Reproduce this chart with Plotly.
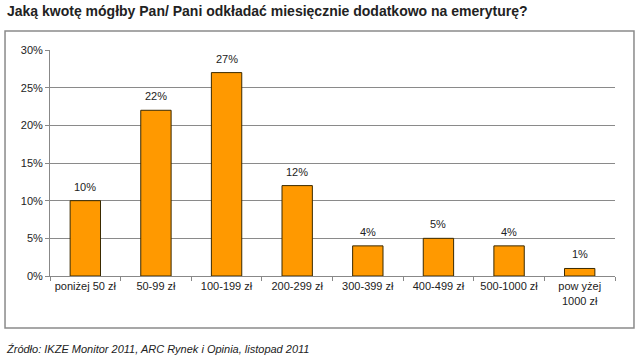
import plotly.graph_objects as go

categories = ["poniżej 50 zł", "50-99 zł", "100-199 zł", "200-299 zł", "300-399 zł",
              "400-499 zł", "500-1000 zł", "pow yżej<br>1000 zł"]
values = [10, 22, 27, 12, 4, 5, 4, 1]
labels = [f"{v}%" for v in values]
y_ticks = [0, 5, 10, 15, 20, 25, 30]
y_tick_text = [f"{t}%" for t in y_ticks]

title = "Jaką kwotę mógłby Pan/ Pani odkładać miesięcznie dodatkowo na emeryturę?"
source = "Źródło: IKZE Monitor 2011, ARC Rynek i Opinia, listopad 2011"

fig = go.Figure(go.Bar(
    x=categories, y=values,
    marker=dict(color="#FF9900", line=dict(color="#3a2a00", width=1)),
    width=0.43, cliponaxis=False,
))

value_annotations = [
    dict(x=c, y=v, text=t, xref="x", yref="y", showarrow=False,
         yanchor="bottom", yshift=6,
         font=dict(family="Liberation Sans, Arial", size=11, color="#222"))
    for c, v, t in zip(categories, values, labels)
]

fig.update_layout(
    width=640, height=358,
    margin=dict(l=50, r=25, t=50, b=82, autoexpand=False),
    paper_bgcolor="white", plot_bgcolor="white",
    showlegend=False,
    font=dict(family="Liberation Sans, Arial", size=11, color="#222"),
    xaxis=dict(type="category", tickson="boundaries", ticks="outside", ticklen=4,
               tickcolor="#888", showline=True, linecolor="#888", linewidth=1,
               showgrid=False, tickangle=0, automargin=False,
               tickfont=dict(size=11, color="#222")),
    yaxis=dict(range=[0, 30], tickvals=y_ticks, ticktext=y_tick_text,
               ticks="outside", ticklen=4, tickcolor="#888",
               showline=True, linecolor="#888", linewidth=1, automargin=False,
               showgrid=True, gridcolor="#8a8a8a", gridwidth=1,
               zeroline=False, tickfont=dict(size=11, color="#222")),
    shapes=[dict(type="rect", xref="paper", yref="paper",
                 x0=-0.0796, x1=1.0336, y0=-0.230, y1=1.084,
                 line=dict(color="#8a8a8a", width=1.5), fillcolor="rgba(0,0,0,0)",
                 layer="below")],
    annotations=value_annotations + [
        dict(text=f"<b>{title}</b>", xref="paper", yref="paper",
             x=(5 - 50) / 565, y=(276 - 11) / 226, xanchor="left", yanchor="middle",
             showarrow=False, font=dict(size=14, color="#222")),
        dict(text=f"<i>{source}</i>", xref="paper", yref="paper",
             x=(4 - 50) / 565, y=(276 - 349) / 226, xanchor="left", yanchor="middle",
             showarrow=False, font=dict(size=11, color="#222")),
    ],
)

fig.write_html("out.html", config={"displayModeBar": False},
               post_script="document.body.style.margin='0';document.body.style.overflow='hidden';")
